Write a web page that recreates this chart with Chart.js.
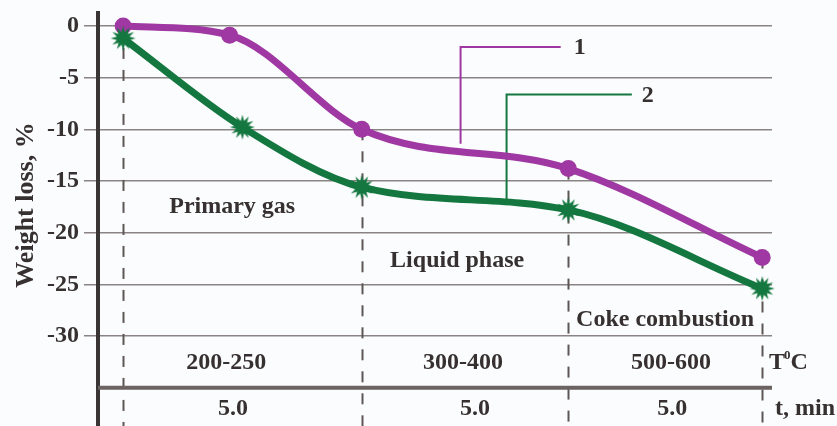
<!DOCTYPE html>
<html>
<head>
<meta charset="utf-8">
<script src="https://cdn.jsdelivr.net/npm/chart.js@4/dist/chart.umd.min.js"></script>
<style>
  html, body { margin: 0; padding: 0; background: #fbfcfd; }
  #wrap { width: 837px; height: 426px; position: relative; }
</style>
</head>
<body>
<div id="wrap"><canvas id="c" width="837" height="426"></canvas></div>
<script>
// ---- data ----
const series1X = [0, 2.5, 5.6, 10.45, 15];
const series1Y = [0, -0.9, -10.0, -13.8, -22.4];
const series2X = [0, 2.8, 5.6, 10.45, 15];
const series2Y = [-1.2, -9.8, -15.6, -17.8, -25.4];
const seriesNames = ['1', '2'];
const yTicks = [0, -5, -10, -15, -20, -25, -30];
const phaseLabels = ['Primary gas', 'Liquid phase', 'Coke combustion'];
const phaseX = [2.56, 7.84, 12.72];
const phaseY = [-17.5, -22.7, -28.4];
const tempLabels = ['200-250', '300-400', '500-600'];
const tempX = [2.42, 7.98, 12.86];
const timeLabels = ['5.0', '5.0', '5.0'];
const timeX = [2.58, 8.26, 12.89];
const boundaryIdx = [0, 2, 3, 4]; // indices of series 1 points that carry the dashed stage lines

const PURPLE = '#9f38a2';
const GREEN = '#13773f';
const TEXT = '#363030';
const SERIF = "'Liberation Serif', 'Times New Roman', serif";

function makeStar(color) {
  const c = document.createElement('canvas');
  const s = 26; c.width = s; c.height = s;
  const g = c.getContext('2d');
  const n = 12, R = 12.5, r = 6.5, cx = s / 2, cy = s / 2;
  g.beginPath();
  for (let i = 0; i < n * 2; i++) {
    const rad = i % 2 === 0 ? R : r;
    const a = Math.PI * i / n - Math.PI / 2;
    const x = cx + rad * Math.cos(a), y = cy + rad * Math.sin(a);
    if (i === 0) g.moveTo(x, y); else g.lineTo(x, y);
  }
  g.closePath();
  g.fillStyle = color; g.fill();
  return c;
}
const starImg = makeStar(GREEN);

const decor = {
  id: 'decor',
  beforeDatasetsDraw(chart) {
    const { ctx, chartArea, scales: { x, y } } = chart;
    ctx.save();
    // dashed stage boundaries
    ctx.strokeStyle = '#5e5656';
    ctx.lineWidth = 2;
    ctx.setLineDash([11, 11]);
    boundaryIdx.forEach(i => {
      const px = Math.round(x.getPixelForValue(series1X[i])) + 0.5;
      ctx.beginPath();
      ctx.moveTo(px, y.getPixelForValue(series1Y[i]));
      ctx.lineTo(px, chartArea.bottom);
      ctx.stroke();
    });
    ctx.setLineDash([]);
    // thick separator between temperature and time rows
    ctx.strokeStyle = '#6b6262';
    ctx.lineWidth = 4;
    const sy = y.getPixelForValue(-35);
    ctx.beginPath();
    ctx.moveTo(chartArea.left, sy);
    ctx.lineTo(chartArea.right, sy);
    ctx.stroke();
    // callout lines
    const callouts = [
      { pts: [[7.92, -11.4], [7.92, -2.03], [10.27, -2.03]], color: PURPLE, label: seriesNames[0], dx: 13 },
      { pts: [[9.0, -17.05], [9.0, -6.63], [11.94, -6.63]], color: GREEN, label: seriesNames[1], dx: 10 }
    ];
    ctx.lineWidth = 2;
    callouts.forEach(c => {
      ctx.strokeStyle = c.color;
      ctx.beginPath();
      c.pts.forEach((p, k) => {
        const px = x.getPixelForValue(p[0]), py = y.getPixelForValue(p[1]);
        if (k === 0) ctx.moveTo(px, py); else ctx.lineTo(px, py);
      });
      ctx.stroke();
      const last = c.pts[c.pts.length - 1];
      ctx.fillStyle = TEXT;
      ctx.font = 'bold 24px ' + SERIF;
      ctx.textAlign = 'left';
      ctx.textBaseline = 'middle';
      ctx.fillText(c.label, x.getPixelForValue(last[0]) + c.dx, y.getPixelForValue(last[1]) + 1);
    });
    ctx.restore();
  },
  afterDraw(chart) {
    const { ctx, chartArea, scales: { x, y } } = chart;
    ctx.save();
    ctx.fillStyle = TEXT;
    ctx.textBaseline = 'middle';
    ctx.textAlign = 'center';
    ctx.font = 'bold 24px ' + SERIF;
    phaseLabels.forEach((t, i) => ctx.fillText(t, x.getPixelForValue(phaseX[i]), y.getPixelForValue(phaseY[i])));
    tempLabels.forEach((t, i) => ctx.fillText(t, x.getPixelForValue(tempX[i]), y.getPixelForValue(-32.55)));
    timeLabels.forEach((t, i) => ctx.fillText(t, x.getPixelForValue(timeX[i]), y.getPixelForValue(-37.05)));
    // row captions at right
    ctx.textAlign = 'left';
    const rx = chartArea.right - 3;
    const ty = y.getPixelForValue(-32.55);
    ctx.fillText('T', rx, ty);
    const tw = ctx.measureText('T').width;
    ctx.font = 'bold 13px ' + SERIF;
    ctx.fillText('0', rx + tw - 1, ty - 7);
    const zw = ctx.measureText('0').width;
    ctx.font = 'bold 24px ' + SERIF;
    ctx.fillText('C', rx + tw + zw - 1, ty);
    ctx.fillText('t, min', chartArea.right + 3, y.getPixelForValue(-37.05));
    // y-axis title
    ctx.translate(26, 205);
    ctx.rotate(-Math.PI / 2);
    ctx.textAlign = 'center';
    ctx.font = 'bold 26px ' + SERIF;
    ctx.fillText('Weight loss, %', 0, 0);
    ctx.restore();
  }
};

const toPts = (xs, ys) => xs.map((v, i) => ({ x: v, y: ys[i] }));

new Chart(document.getElementById('c'), {
  type: 'scatter',
  data: {
    datasets: [
      {
        label: seriesNames[0],
        data: toPts(series1X, series1Y),
        showLine: true,
        cubicInterpolationMode: 'monotone',
        borderColor: PURPLE,
        borderWidth: 7,
        pointStyle: 'circle',
        pointRadius: 8.5,
        pointBackgroundColor: PURPLE,
        pointBorderColor: PURPLE,
        pointBorderWidth: 0,
        clip: false,
        order: 1
      },
      {
        label: seriesNames[1],
        data: toPts(series2X, series2Y),
        showLine: true,
        cubicInterpolationMode: 'monotone',
        borderColor: GREEN,
        borderWidth: 7,
        pointStyle: starImg,
        pointRadius: 12,
        clip: false,
        order: 0
      }
    ]
  },
  options: {
    responsive: false,
    animation: false,
    events: [],
    layout: { autoPadding: false, padding: { left: 0, top: 13, right: 65, bottom: 0 } },
    plugins: { legend: { display: false }, tooltip: { enabled: false } },
    scales: {
      x: {
        type: 'linear',
        display: false,
        min: -0.59,
        max: 15.23
      },
      y: {
        type: 'linear',
        min: -38.7,
        max: 1.25,
        afterBuildTicks: s => { s.ticks = yTicks.map(v => ({ value: v })); },
        afterFit: s => { s.width = 98; s.paddingTop = 0; s.paddingBottom = 0; },
        grid: {
          color: '#8a8383',
          lineWidth: 1.5,
          tickLength: 14,
          drawOnChartArea: true
        },
        border: { display: true, color: '#3a3535', width: 4 },
        ticks: {
          color: TEXT,
          padding: 5,
          font: { family: SERIF, weight: 'bold', size: 24 },
          callback: v => String(v)
        }
      }
    }
  },
  plugins: [decor]
});
</script>
</body>
</html>
